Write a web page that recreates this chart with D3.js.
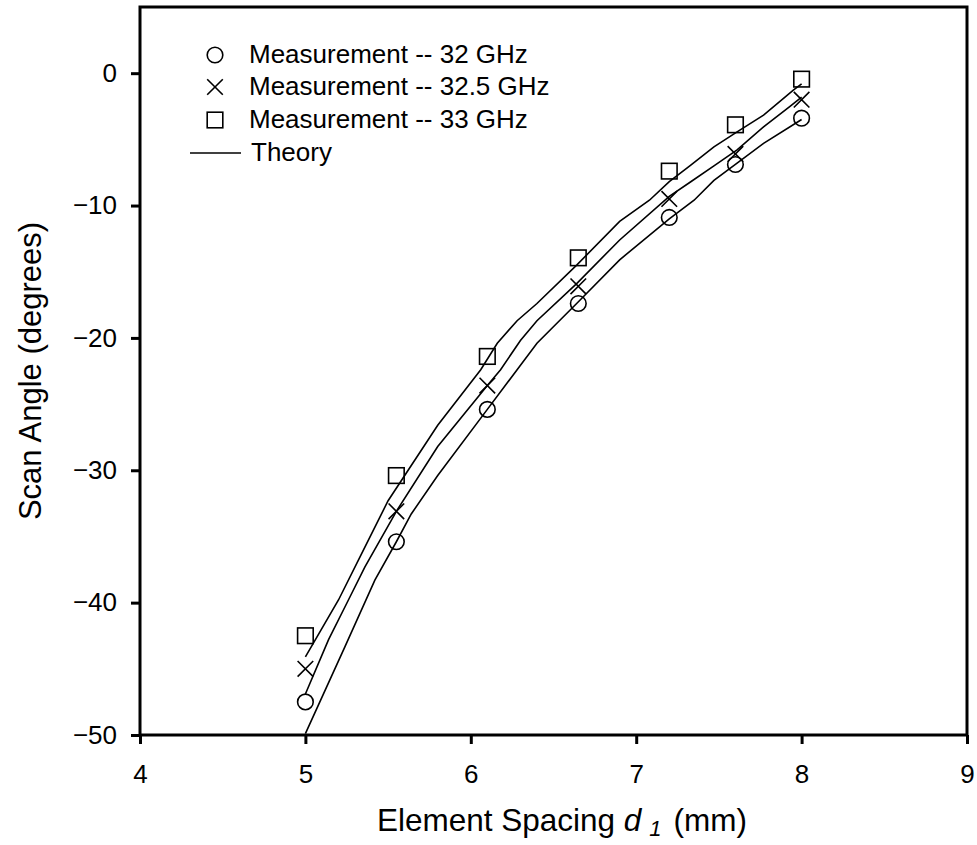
<!DOCTYPE html>
<html>
<head>
<meta charset="utf-8">
<script src="https://cdn.jsdelivr.net/npm/d3@7"></script>
<style>
  html, body { margin: 0; padding: 0; background: #fff; }
  svg { display: block; font-family: "Liberation Sans", Arial, sans-serif; }
</style>
</head>
<body>
<svg id="chart" width="977" height="845"></svg>
<script>
// ---------- data ----------
const spacing = [5, 5.55, 6.1, 6.65, 7.2, 7.6, 8];
const meas32  = [-47.5, -35.4, -25.4, -17.4, -10.9, -6.9, -3.4];
const meas325 = [-45.0, -33.1, -23.6, -16.1, -9.5, -6.1, -2.0];
const meas33  = [-42.5, -30.4, -21.4, -13.95, -7.4, -3.9, -0.45];

const theory32X  = [5.0, 5.24, 5.42, 5.55, 5.64, 5.8, 6.1, 6.28, 6.4, 6.64, 6.9, 7.2, 7.35, 7.47, 7.61, 7.77, 8.0];
const theory32Y  = [-49.9, -43.3, -38.3, -35.4, -33.3, -30.4, -25.4, -22.4, -20.4, -17.4, -14.1, -11.0, -9.6, -8.1, -6.8, -5.3, -3.5];
const theory325X = [5.0, 5.14, 5.26, 5.36, 5.55, 5.8, 6.1, 6.18, 6.3, 6.4, 6.64, 6.9, 7.2, 7.33, 7.47, 7.61, 7.77, 7.93, 8.0];
const theory325Y = [-46.9, -42.8, -39.8, -37.3, -33.1, -28.2, -23.6, -22.4, -20.2, -18.7, -15.9, -12.6, -9.3, -8.2, -7.0, -5.8, -4.05, -2.5, -1.8];
const theory33X  = [5.0, 5.2, 5.34, 5.5, 5.8, 6.06, 6.16, 6.28, 6.4, 6.64, 6.9, 7.08, 7.2, 7.33, 7.47, 7.61, 7.77, 7.95, 8.0];
const theory33Y  = [-44.1, -39.8, -36.3, -32.3, -26.6, -22.4, -20.4, -18.7, -17.4, -14.5, -11.2, -9.6, -8.2, -6.95, -5.57, -4.43, -3.17, -1.28, -0.8];

const xTicks = [4, 5, 6, 7, 8, 9];
const yTicks = [-50, -40, -30, -20, -10, 0];
const legendLabels = ["Measurement -- 32 GHz", "Measurement -- 32.5 GHz", "Measurement -- 33 GHz", "Theory"];

// ---------- layout ----------
const padL = 140, padR = 967, padT = 7, padB = 735;
const svg = d3.select("#chart");
const x = d3.scaleLinear().domain([4, 9]).range([padL, padR]);
const y = d3.scaleLinear().domain([-50, 5]).range([padB, padT]);

// clip
svg.append("defs").append("clipPath").attr("id", "clip")
  .append("rect").attr("x", padL).attr("y", padT).attr("width", padR - padL).attr("height", padB - padT);

// axes
const yAxis = svg.append("g").attr("transform", `translate(${padL},0)`)
  .call(d3.axisLeft(y).tickValues(yTicks).tickSize(9).tickPadding(14).tickFormat(d3.format("d")));
const xAxis = svg.append("g").attr("transform", `translate(0,${padB})`)
  .call(d3.axisBottom(x).tickValues(xTicks).tickSize(9).tickPadding(21).tickFormat(d3.format("d")));
[yAxis, xAxis].forEach(g => {
  g.select(".domain").remove();
  g.selectAll(".tick line").attr("stroke", "#000").attr("stroke-width", 3);
  g.selectAll(".tick text").attr("fill", "#000").style("font-size", "26px")
    .style("font-family", '"Liberation Sans", Arial, sans-serif');
});

// frame
svg.append("rect").attr("x", padL).attr("y", padT).attr("width", padR - padL).attr("height", padB - padT)
  .attr("fill", "none").attr("stroke", "#000").attr("stroke-width", 3);

// theory lines
const line = d3.line().x(d => x(d[0])).y(d => y(d[1]));
const plot = svg.append("g").attr("clip-path", "url(#clip)");
[[theory32X, theory32Y], [theory325X, theory325Y], [theory33X, theory33Y]].forEach(([xs, ys]) => {
  plot.append("path").datum(xs.map((v, i) => [v, ys[i]]))
    .attr("d", line).attr("fill", "none").attr("stroke", "#000").attr("stroke-width", 1.6);
});

// markers
const mk = svg.append("g").attr("fill", "none").attr("stroke", "#000").attr("stroke-width", 1.6);
function circleMark(g, cx, cy) { g.append("circle").attr("cx", cx).attr("cy", cy).attr("r", 7.8); }
function crossMark(g, cx, cy) {
  const s = 7.8;
  g.append("path").attr("d", `M${cx - s},${cy - s}L${cx + s},${cy + s}M${cx - s},${cy + s}L${cx + s},${cy - s}`);
}
function squareMark(g, cx, cy) { g.append("rect").attr("x", cx - 7.8).attr("y", cy - 7.8).attr("width", 15.6).attr("height", 15.6); }

spacing.forEach((v, i) => {
  circleMark(mk, x(v), y(meas32[i]));
  crossMark(mk, x(v), y(meas325[i]));
  squareMark(mk, x(v), y(meas33[i]));
});

// legend
const lg = svg.append("g");
const rowsY = [55, 87, 120, 153];
const lgm = lg.append("g").attr("fill", "none").attr("stroke", "#000").attr("stroke-width", 1.6);
circleMark(lgm, 215, rowsY[0]);
crossMark(lgm, 215, rowsY[1]);
squareMark(lgm, 215, rowsY[2]);
lgm.append("line").attr("x1", 190).attr("x2", 241).attr("y1", rowsY[3]).attr("y2", rowsY[3]);
legendLabels.forEach((t, i) => {
  lg.append("text").attr("x", i === 3 ? 251 : 249).attr("y", rowsY[i] + 8)
    .style("font-size", "26px").attr("fill", "#000").text(t);
});

// axis titles
const xt = svg.append("text").attr("x", 562).attr("y", 831).attr("text-anchor", "middle")
  .style("font-size", "31.5px").attr("fill", "#000");
xt.append("tspan").text("Element Spacing ");
xt.append("tspan").style("font-style", "italic").text("d");
xt.append("tspan").style("font-style", "italic").style("font-size", "22px").attr("dx", 8).attr("dy", 5).text("1");
xt.append("tspan").attr("dx", 12).attr("dy", -5).text("(mm)");

svg.append("text").attr("transform", `translate(41,${(padT + padB) / 2}) rotate(-90)`)
  .attr("text-anchor", "middle").style("font-size", "31px").attr("fill", "#000")
  .text("Scan Angle (degrees)");
</script>
</body>
</html>
